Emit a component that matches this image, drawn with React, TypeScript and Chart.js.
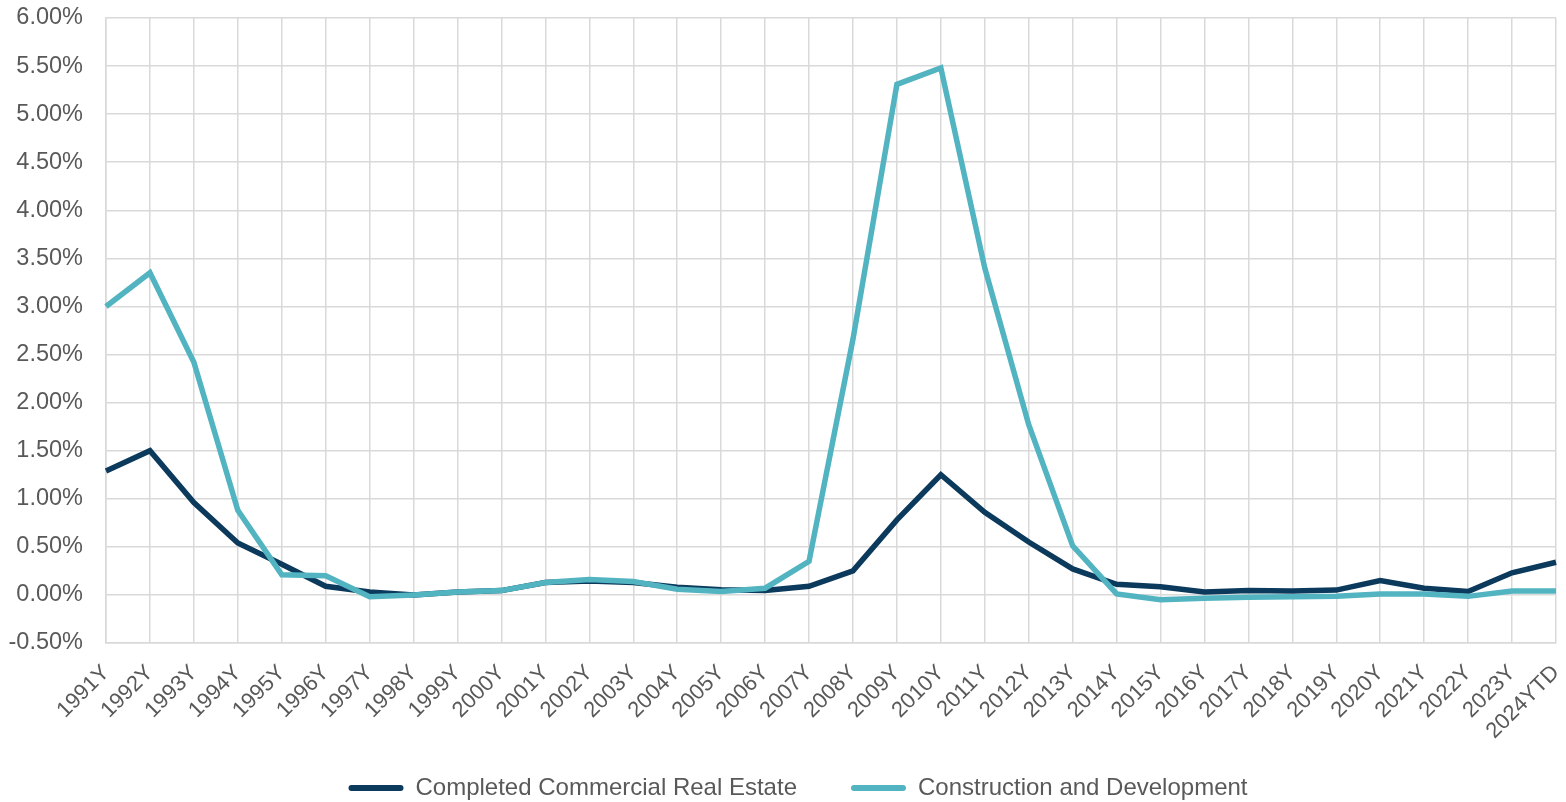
import React, { useEffect, useRef } from "react";
import { Chart, registerables } from "chart.js";

Chart.register(...registerables);

const categories = [
  "1991Y", "1992Y", "1993Y", "1994Y", "1995Y", "1996Y", "1997Y", "1998Y", "1999Y", "2000Y",
  "2001Y", "2002Y", "2003Y", "2004Y", "2005Y", "2006Y", "2007Y", "2008Y", "2009Y", "2010Y",
  "2011Y", "2012Y", "2013Y", "2014Y", "2015Y", "2016Y", "2017Y", "2018Y", "2019Y", "2020Y",
  "2021Y", "2022Y", "2023Y", "2024YTD",
];

const completedCRE = [
  1.29, 1.5, 0.96, 0.54, 0.32, 0.09, 0.03, 0.0, 0.03, 0.045,
  0.13, 0.145, 0.13, 0.08, 0.055, 0.045, 0.09, 0.25, 0.78, 1.25,
  0.86, 0.55, 0.27, 0.11, 0.085, 0.03, 0.045, 0.04, 0.05, 0.15,
  0.07, 0.035, 0.23, 0.34,
];

const constructionDev = [
  3.0, 3.35, 2.42, 0.88, 0.21, 0.2, -0.02, 0.0, 0.03, 0.045,
  0.13, 0.16, 0.14, 0.06, 0.035, 0.07, 0.35, 2.66, 5.31, 5.48,
  3.4, 1.77, 0.51, 0.01, -0.05, -0.035, -0.025, -0.02, -0.015, 0.01,
  0.01, -0.015, 0.04, 0.04,
];

const seriesNames = ["Completed Commercial Real Estate", "Construction and Development"];
const yMin = -0.5;
const yMax = 6.0;
const yStep = 0.5;

const DARK = "#0C3A5C";
const TEAL = "#52B4C1";
const TEXT = "#595959";
const GRID = "#D9D9D9";
const FONT = "'Liberation Sans', Arial, sans-serif";

const layoutTweaks = {
  id: "layoutTweaks",
  afterLayout(chart: any) {
    const x = chart.scales.x;
    if (x) x.bottom = chart.height;
    const lg = chart.legend;
    if (lg) {
      lg.left += 20;
      lg.right += 20;
    }
  },
};

export default function App() {
  const canvasRef = useRef<HTMLCanvasElement | null>(null);

  useEffect(() => {
    document.body.style.margin = "0";
    const canvas = canvasRef.current;
    if (!canvas) return;
    const chart = new Chart(canvas, {
      type: "line",
      data: {
        labels: categories,
        datasets: [
          {
            label: seriesNames[0],
            data: completedCRE,
            borderColor: DARK,
            backgroundColor: DARK,
            borderWidth: 5.5,
            pointRadius: 0,
            tension: 0,
            order: 1,
          },
          {
            label: seriesNames[1],
            data: constructionDev,
            borderColor: TEAL,
            backgroundColor: TEAL,
            borderWidth: 5.5,
            pointRadius: 0,
            tension: 0,
            order: 0,
          },
        ],
      },
      plugins: [layoutTweaks],
      options: {
        animation: false,
        responsive: true,
        maintainAspectRatio: false,
        layout: { padding: { top: 18, right: 10, left: 0, bottom: 0 } },
        plugins: {
          tooltip: { enabled: false },
          legend: {
            position: "bottom",
            maxHeight: 80,
            labels: {
              boxWidth: 55,
              boxHeight: 6,
              padding: 54,
              color: TEXT,
              font: { family: FONT, size: 24 },
              sort: (a: any, b: any) => a.datasetIndex - b.datasetIndex,
              useBorderRadius: true,
              borderRadius: 3,
              generateLabels: (chart: any) => {
                const items = Chart.defaults.plugins.legend.labels.generateLabels(chart);
                return items.map((it: any) => ({ ...it, lineWidth: 0, fillStyle: it.strokeStyle }));
              },
            },
          },
        },
        scales: {
          x: {
            offset: false,
            grid: { color: GRID, lineWidth: 1.5, drawTicks: false, offset: false },
            border: { color: GRID, width: 1.5 },
            ticks: {
              color: TEXT,
              font: { family: FONT, size: 22 },
              minRotation: 45,
              maxRotation: 45,
              autoSkip: false,
              padding: 17,
            },
            afterFit: (scale: any) => {
              scale.height = 79;
              scale.paddingLeft = 0;
              scale.paddingRight = 0;
            },
          },
          y: {
            min: yMin,
            max: yMax,
            grid: { color: GRID, lineWidth: 1.5, drawTicks: false },
            border: { color: GRID, width: 1.5 },
            ticks: {
              stepSize: yStep,
              color: TEXT,
              font: { family: FONT, size: 23.5 },
              padding: 23,
              callback: (v: any) => Number(v).toFixed(2) + "%",
            },
            afterFit: (scale: any) => {
              scale.width = 106;
              scale.paddingTop = 0;
              scale.paddingBottom = 0;
            },
          },
        },
      },
    });
    return () => chart.destroy();
  }, []);

  return (
    <div style={{ width: 1566, height: 802, position: "relative" }}>
      <canvas ref={canvasRef} />
    </div>
  );
}
